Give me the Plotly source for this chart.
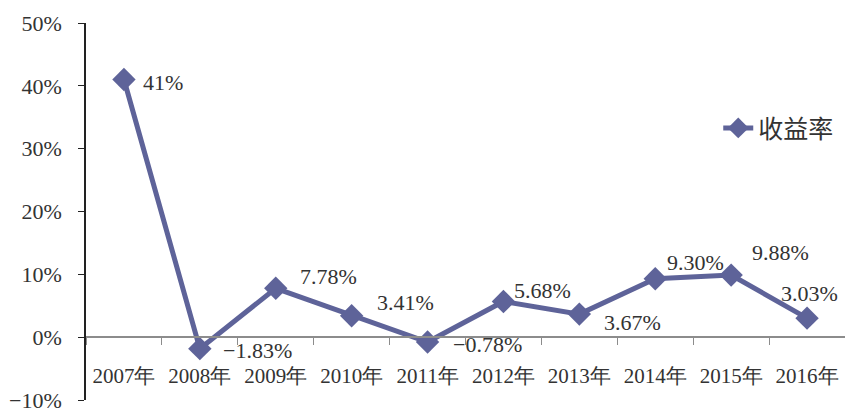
import plotly.graph_objects as go

years = ["2007年", "2008年", "2009年", "2010年", "2011年", "2012年", "2013年", "2014年", "2015年", "2016年"]
returns = [0.41, -0.0183, 0.0778, 0.0341, -0.0078, 0.0568, 0.0367, 0.0930, 0.0988, 0.0303]
labels = ["41%", "−1.83%", "7.78%", "3.41%", "−0.78%", "5.68%", "3.67%", "9.30%", "9.88%", "3.03%"]
series_name = "收益率"

# label offsets (pixels) relative to each point
label_dx = [39, 58, 53, 54, 60, 39, 53, 40, 49, 2]
label_dy = [-3, -2, 12, 13, -2, 11, -8, 16, 23, 25]

color = "rgb(94,99,153)"
serif = "Liberation Serif"

fig = go.Figure()
fig.add_trace(go.Scatter(
    x=years, y=returns, mode="lines+markers", name=series_name,
    line=dict(color=color, width=5),
    marker=dict(symbol="diamond", size=18, color=color),
))

for x, y, t, dx, dy in zip(years, returns, labels, label_dx, label_dy):
    fig.add_annotation(x=x, y=y, text=t, showarrow=False, xshift=dx, yshift=dy,
                       font=dict(family=serif, size=22, color="#333333"))

y_min, y_max = -0.1, 0.5
zero_pos = (0 - y_min) / (y_max - y_min)

fig.update_layout(
    width=845, height=410,
    margin=dict(l=86, r=0, t=23, b=10, autoexpand=False),
    paper_bgcolor="white", plot_bgcolor="white",
    showlegend=True,
    legend=dict(x=0.833, y=0.721, xanchor="left", yanchor="middle",
                font=dict(family="Noto Sans CJK SC", size=25, color="#333333"),
                bgcolor="rgba(0,0,0,0)"),
    xaxis=dict(
        type="category", range=[-0.5, 9.5],
        anchor="free", position=zero_pos, automargin=False,
        showline=True, linecolor="#8c8c8c", linewidth=1.5,
        ticks="outside", tickson="boundaries", ticklen=7, tickcolor="#8c8c8c",
        showgrid=False, zeroline=False,
        ticklabelstandoff=20,
        tickfont=dict(family=serif, size=21, color="#333333"),
    ),
    yaxis=dict(
        range=[y_min, y_max], dtick=0.1, tickformat=".0%", automargin=False,
        showline=True, linecolor="#222222", linewidth=1.5,
        ticks="outside", ticklen=6, tickcolor="#222222",
        showgrid=False, zeroline=False,
        ticklabelstandoff=12, ticklabeloverflow="allow",
        tickfont=dict(family=serif, size=22, color="#333333"),
    ),
)

fig.write_html("out.html", config={"displayModeBar": False},
               post_script="document.body.style.margin='0';")
